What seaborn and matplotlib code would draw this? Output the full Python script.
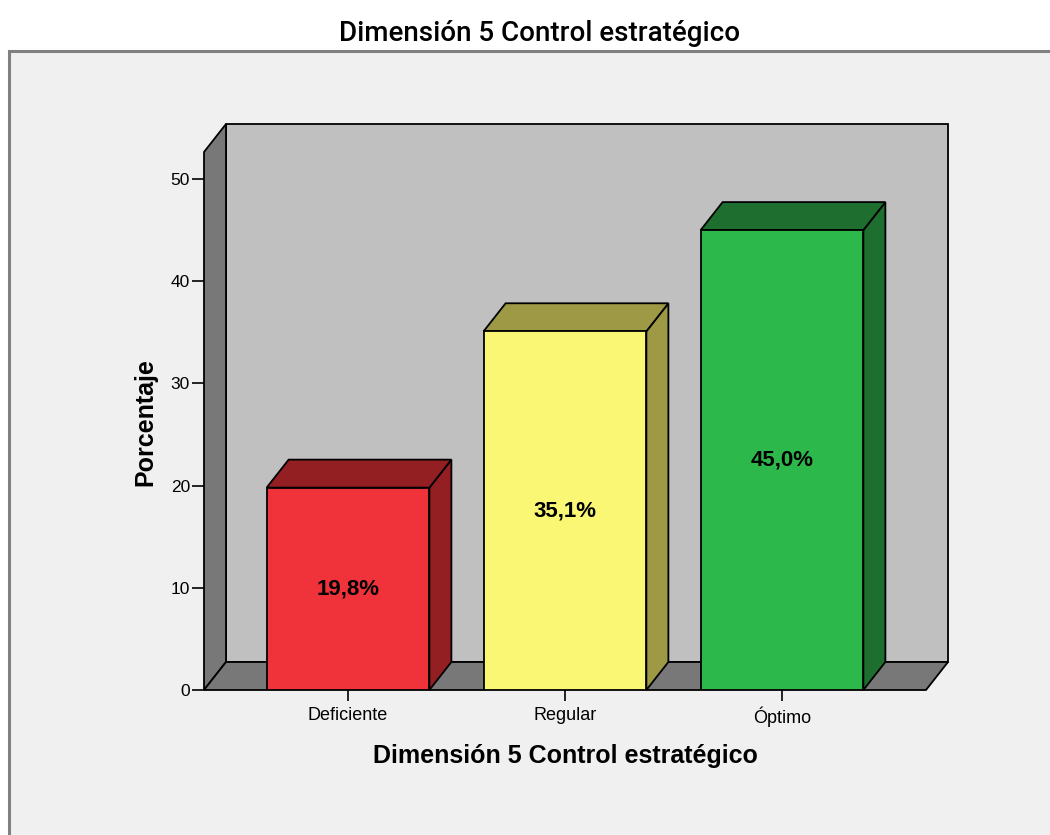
import matplotlib
matplotlib.use('Agg')
import matplotlib.pyplot as plt
import seaborn as sns
import pandas as pd
from matplotlib.patches import Polygon, Rectangle

# ---- data ----
categories = ['Deficiente', 'Regular', 'Óptimo']
percentages = [19.8, 35.1, 45.0]
value_labels = ['19,8%', '35,1%', '45,0%']
y_ticks = [0, 10, 20, 30, 40, 50]
chart_title = 'Dimensión 5 Control estratégico'
x_title = 'Dimensión 5 Control estratégico'
y_title = 'Porcentaje'

front_colors = ['#F0323A', '#F9F774', '#2DB84B']
shade_colors = ['#931F22', '#9E9945', '#1D6E2F']

W, H = 1050, 835
sns.set_theme(style='white')
plt.rcParams['font.family'] = ['Liberation Sans', 'DejaVu Sans']

fig = plt.figure(figsize=(W / 100, H / 100), dpi=100)
fig.patch.set_facecolor('white')
fig.add_artist(Rectangle((9 / W, -0.05), 1.2, 1 - 51 / H + 0.05,
                         transform=fig.transFigure, facecolor='#F0F0F0',
                         edgecolor='#808080', lw=2.2, zorder=-5))

ax = fig.add_axes([204 / W, 1 - 690 / H, (926 - 204) / W, (690 - 152) / H])
ax.set_facecolor('none')

df = pd.DataFrame({'cat': categories, 'pct': percentages})
sns.barplot(data=df, x='cat', y='pct', hue='cat', palette=front_colors,
            legend=False, width=0.75, saturation=1, edgecolor='black',
            linewidth=1.3, ax=ax, zorder=3)

xmin, xmax = -0.6636, 2.6636
ymax = 538 / 10.22
ax.set_xlim(xmin, xmax)
ax.set_ylim(0, ymax)
dx = 22 * (xmax - xmin) / 722
dy = 28 * ymax / 538

bars = sorted([p for c in ax.containers for p in c], key=lambda p: p.get_x())

# walls
wall_kw = dict(edgecolor='black', lw=1.3, clip_on=False, joinstyle='miter')
ax.add_patch(Polygon([(xmin + dx, dy), (xmax + dx, dy), (xmax + dx, ymax + dy),
                      (xmin + dx, ymax + dy)], facecolor='#C0C0C0', zorder=0.5, **wall_kw))
ax.add_patch(Polygon([(xmin, 0), (xmin + dx, dy), (xmin + dx, ymax + dy), (xmin, ymax)],
                     facecolor='#787878', zorder=0.6, **wall_kw))
ax.add_patch(Polygon([(xmin, 0), (xmax, 0), (xmax + dx, dy), (xmin + dx, dy)],
                     facecolor='#787878', zorder=0.6, **wall_kw))

# 3D faces of bars
for bar, shade, lbl in zip(bars, shade_colors, value_labels):
    x0 = bar.get_x()
    w = bar.get_width()
    h = bar.get_height()
    x1 = x0 + w
    ax.add_patch(Polygon([(x1, 0), (x1 + dx, dy), (x1 + dx, h + dy), (x1, h)],
                         facecolor=shade, zorder=2.5, **wall_kw))
    ax.add_patch(Polygon([(x0, h), (x1, h), (x1 + dx, h + dy), (x0 + dx, h + dy)],
                         facecolor=shade, zorder=2.5, **wall_kw))
    ax.text(x0 + w / 2, h / 2, lbl, ha='center', va='center', fontsize=16,
            fontweight='bold', color='black', zorder=5)

for s in ax.spines.values():
    s.set_visible(False)
ax.set_yticks(y_ticks)
ax.set_xlabel('')
ax.set_ylabel('')
ax.tick_params(axis='y', left=True, length=8.6, width=1.2, pad=1.5,
               labelsize=12.5, color='black', labelcolor='black')
ax.tick_params(axis='x', bottom=True, length=8, width=1.2, pad=4,
               labelsize=13, color='black', labelcolor='black')
ax.grid(False)

fig.text(540 / W, 1 - 41 / H, chart_title, ha='center', va='baseline',
         fontsize=20, fontweight='medium', color='black',
         family=['Roboto', 'Liberation Sans', 'DejaVu Sans'])
fig.text(565 / W, 1 - 763 / H, x_title, ha='center', va='baseline',
         fontsize=18, fontweight='bold', color='black')
fig.text(152 / W, 1 - 422 / H, y_title, ha='center', va='baseline',
         rotation=90, rotation_mode='anchor', fontsize=18,
         fontweight='bold', color='black')

fig.savefig('out.png', dpi=100)
